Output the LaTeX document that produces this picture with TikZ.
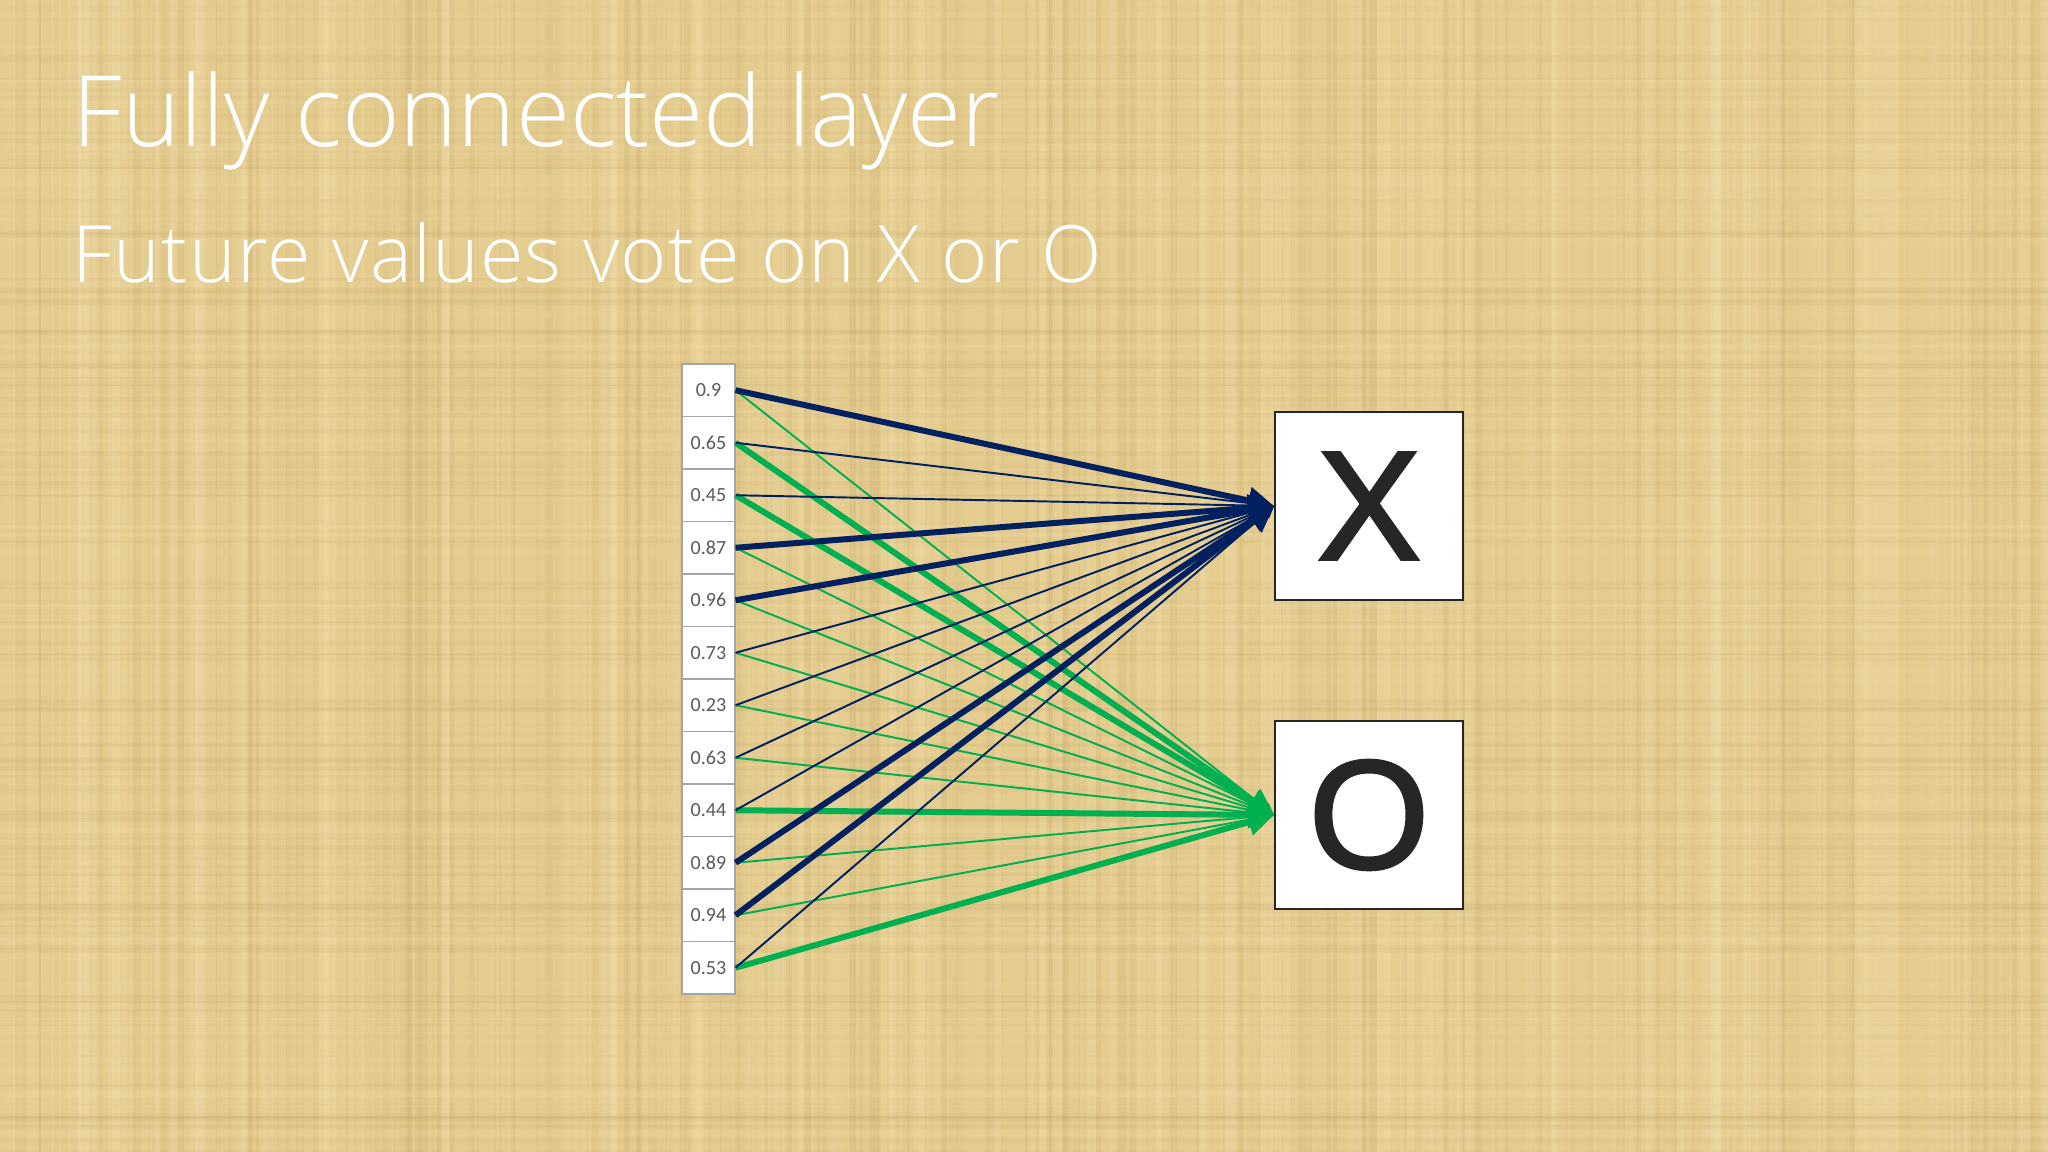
\documentclass[tikz,border=0pt]{standalone}
\usepackage{fontspec}
\setmainfont{Liberation Sans}
\newfontfamily\titlefont{Open Sans Light}
\newfontfamily\subfont{Open Sans Light}[LetterSpace=1.5]
\newfontfamily\cellfont{Carlito}
\newfontfamily\bigfont{Liberation Sans}[FakeBold=2]
\usetikzlibrary{arrows.meta}
\definecolor{bgtan}{RGB}{228,203,142}
\definecolor{bgdark}{RGB}{190,160,95}
\definecolor{bglight}{RGB}{244,228,178}
\definecolor{navy}{HTML}{002060}
\definecolor{vgreen}{HTML}{00B050}
\definecolor{celltext}{RGB}{89,89,89}
\definecolor{cellline}{RGB}{165,165,165}
\definecolor{letter}{RGB}{38,38,38}
\begin{document}
\begin{tikzpicture}[x=0.01cm,y=-0.01cm,
  cellbox/.style={draw=cellline, line width=0.3pt, fill=white, minimum width=0.53cm, minimum height=0.525cm, inner sep=0pt, font=\cellfont\fontsize{5.7}{7}\selectfont, text=celltext},
  classbox/.style={draw=black!85, line width=0.5pt, fill=white, minimum size=1.88cm, inner sep=0pt, font=\bigfont\fontsize{44}{50}\selectfont, text=letter},
  thickx/.style={navy, line width=1.7pt, -{Triangle[length=0.26cm,width=0.26cm]}},
  thinx/.style={navy, line width=0.55pt, -{Triangle[length=0.12cm,width=0.12cm]}},
  thicko/.style={vgreen, line width=1.7pt, -{Triangle[length=0.26cm,width=0.26cm]}},
  thino/.style={vgreen, line width=0.55pt, -{Triangle[length=0.12cm,width=0.12cm]}},
  titletext/.style={anchor=base west, inner sep=0pt, text=white}
]
\useasboundingbox (0,0) rectangle (2048,1152);
\fill[bgtan] (0,0) rectangle (2048,1152);
% papyrus-like texture
\pgfmathsetseed{42}
\foreach \i in {1,...,260}{
  \pgfmathsetmacro\xx{rnd*2048}
  \pgfmathsetmacro\ww{1+rnd*6}
  \pgfmathsetmacro\oo{0.04+rnd*0.12}
  \fill[bgdark, opacity=\oo] (\xx,0) rectangle ++(\ww,1152);
}
\foreach \i in {1,...,180}{
  \pgfmathsetmacro\xx{rnd*2048}
  \pgfmathsetmacro\ww{2+rnd*12}
  \pgfmathsetmacro\oo{0.06+rnd*0.2}
  \fill[bglight, opacity=\oo] (\xx,0) rectangle ++(\ww,1152);
}
\foreach \i in {1,...,160}{
  \pgfmathsetmacro\yy{rnd*1152}
  \pgfmathsetmacro\hh{1+rnd*4}
  \pgfmathsetmacro\oo{0.03+rnd*0.09}
  \fill[bgdark, opacity=\oo] (0,\yy) rectangle ++(2048,\hh);
}
\foreach \i in {1,...,80}{
  \pgfmathsetmacro\yy{rnd*1152}
  \pgfmathsetmacro\hh{2+rnd*8}
  \pgfmathsetmacro\oo{0.04+rnd*0.12}
  \fill[bglight, opacity=\oo] (0,\yy) rectangle ++(2048,\hh);
}

% titles
\node[titletext, font=\titlefont\fontsize{28}{34}\selectfont] (title) at (72,147) {Fully connected layer};
\node[titletext, font=\subfont\fontsize{22.5}{27}\selectfont] (subtitle) at (72,283) {Future values vote on X or O};

% cells
\foreach \v [count=\i] in {0.9,0.65,0.45,0.87,0.96,0.73,0.23,0.63,0.44,0.89,0.94,0.53}{
  \node[cellbox] (c\i) at (708.5, {390.25+(\i-1)*52.5}) {\v};
}

% class boxes
\node[classbox] (X) at (1369,506) {X};
\node[classbox] (O) at (1369,815) {O};

% connections to O
\foreach \i in {2,3,9,12}{ \draw[thicko] (c\i.east) -- (O.west); }
\foreach \i in {1,4,5,6,7,8,10,11}{ \draw[thino] (c\i.east) -- (O.west); }
% connections to X
\foreach \i in {1,4,5,10,11}{ \draw[thickx] (c\i.east) -- (X.west); }
\foreach \i in {2,3,6,7,8,9,12}{ \draw[thinx] (c\i.east) -- (X.west); }
\end{tikzpicture}
\end{document}
